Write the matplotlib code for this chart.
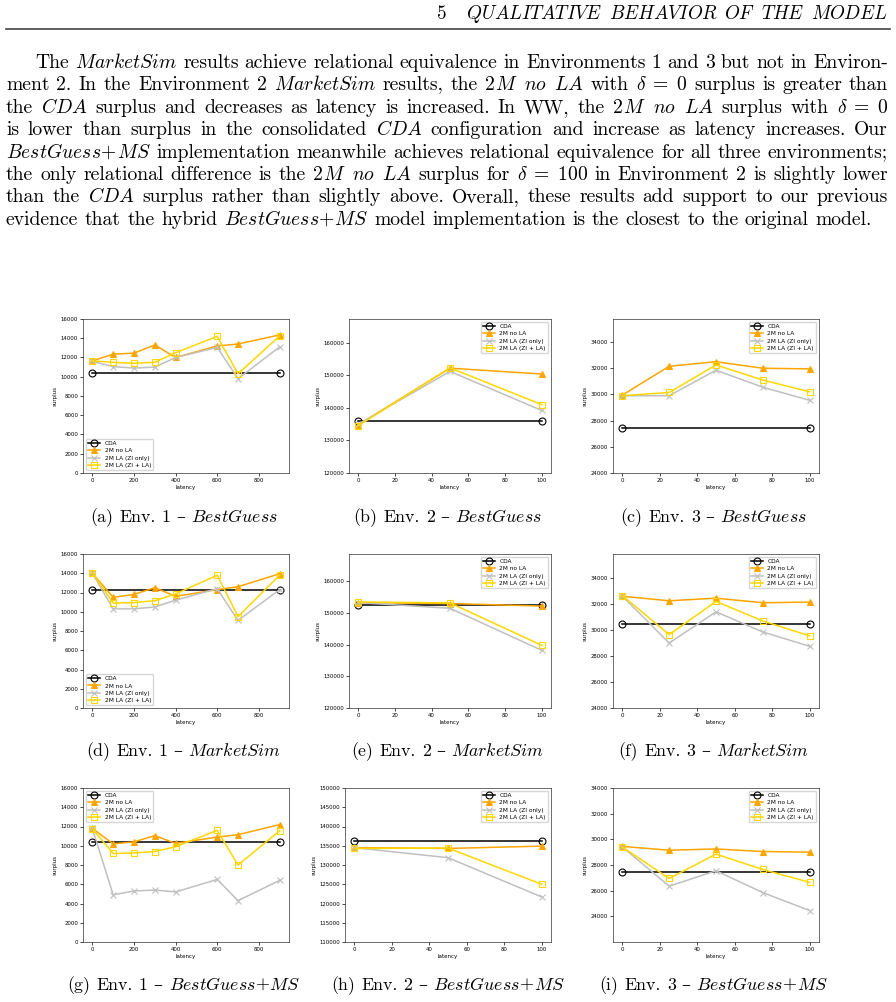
import re
import matplotlib
matplotlib.use('Agg')
import matplotlib.pyplot as plt
from matplotlib.lines import Line2D

plt.rcParams['mathtext.fontset'] = 'cm'
plt.rcParams['axes.unicode_minus'] = False

W, H = 896, 1002
fig = plt.figure(figsize=(W / 100, H / 100), dpi=100)
renderer = fig.canvas.get_renderer()

# ---------------- data ----------------
series_labels = ['CDA', '2M no LA', '2M LA (ZI only)', '2M LA (ZI + LA)']
lat_env1 = [0, 100, 200, 300, 400, 600, 700, 900]
lat_env2 = [0, 50, 100]
lat_env3 = [0, 25, 50, 75, 100]

# (a) Env. 1 - BestGuess
a_cda = [10400, 10400]
a_nola = [11650, 12350, 12450, 13300, 12000, 13200, 13400, 14350]
a_zi = [11600, 11050, 10900, 11000, 12000, 13050, 9800, 13100]
a_zila = [11650, 11500, 11400, 11500, 12500, 14200, 10300, 14250]
# (b) Env. 2 - BestGuess
b_cda = [136000, 136000]
b_nola = [134800, 152200, 150400]
b_zi = [135000, 151200, 139200]
b_zila = [134500, 152300, 141000]
# (c) Env. 3 - BestGuess
c_cda = [27450, 27450]
c_nola = [29950, 32150, 32500, 32000, 31950]
c_zi = [29900, 29900, 31850, 30550, 29550]
c_zila = [29900, 30150, 32250, 31100, 30200]
# (d) Env. 1 - MarketSim
d_cda = [12300, 12300]
d_nola = [14000, 11500, 11800, 12500, 11600, 12300, 12600, 13950]
d_zi = [14000, 10300, 10300, 10500, 11200, 12400, 9100, 12300]
d_zila = [14050, 10900, 10950, 11150, 11850, 13800, 9500, 13800]
# (e) Env. 2 - MarketSim
e_cda = [152400, 152400]
e_nola = [153300, 153000, 152200]
e_zi = [153300, 151500, 138200]
e_zila = [153500, 153200, 139800]
# (f) Env. 3 - MarketSim
f_cda = [30450, 30450]
f_nola = [32600, 32250, 32450, 32100, 32150]
f_zi = [32600, 29000, 31400, 29850, 28750]
f_zila = [32650, 29650, 32200, 30700, 29550]
# (g) Env. 1 - BestGuess+MS
g_cda = [10400, 10400]
g_nola = [11800, 10200, 10400, 11050, 10250, 10900, 11150, 12200]
g_zi = [11800, 4900, 5300, 5400, 5200, 6500, 4300, 6400]
g_zila = [11750, 9200, 9250, 9400, 9900, 11600, 8000, 11550]
# (h) Env. 2 - BestGuess+MS
h_cda = [136200, 136200]
h_nola = [134500, 134300, 134900]
h_zi = [134500, 131900, 121700]
h_zila = [134300, 134400, 125000]
# (i) Env. 3 - BestGuess+MS
i_cda = [27450, 27450]
i_nola = [29450, 29150, 29250, 29050, 29000]
i_zi = [29400, 26350, 27550, 25850, 24450]
i_zila = [29400, 26950, 28850, 27650, 26650]

captions = [
    '(a) Env. 1 – *BestGuess*', '(b) Env. 2 – *BestGuess*', '(c) Env. 3 – *BestGuess*',
    '(d) Env. 1 – *MarketSim*', '(e) Env. 2 – *MarketSim*', '(f) Env. 3 – *MarketSim*',
    '(g) Env. 1 – *BestGuess*+*MS*', '(h) Env. 2 – *BestGuess*+*MS*', '(i) Env. 3 – *BestGuess*+*MS*',
]

header_title = '*QUALITATIVE* *BEHAVIOR* *OF* *THE* *MODEL*'
paragraph = [
    'The *MarketSim* results achieve relational equivalence in Environments 1 and 3 but not in Environ-',
    r'ment 2. In the Environment 2 *MarketSim* results, the *2M* *no* *LA* with $\delta \;=\; 0$ surplus is greater than',
    r'the *CDA* surplus and decreases as latency is increased. In WW, the *2M* *no* *LA* surplus with $\delta \;=\; 0$',
    'is lower than surplus in the consolidated *CDA* configuration and increase as latency increases. Our',
    '*BestGuess*+*MS* implementation meanwhile achieves relational equivalence for all three environments;',
    r'the only relational difference is the *2M* *no* *LA* surplus for $\delta \;=\; 100$ in Environment 2 is slightly lower',
    'than the *CDA* surplus rather than slightly above. Overall, these results add support to our previous',
    'evidence that the hybrid *BestGuess*+*MS* model implementation is the closest to the original model.',
]

# ---------------- text layout helpers ----------------
RM_FAMILY = ['cmr10', 'DejaVu Serif']


def make_part(s, style, fs):
    if style == 'rm':
        return fig.text(0, 0, s, fontsize=fs, family=RM_FAMILY, va='baseline', ha='left')
    if style == 'it':
        return fig.text(0, 0, r'$\mathit{%s}$' % s, fontsize=fs, va='baseline', ha='left')
    return fig.text(0, 0, s, fontsize=fs, va='baseline', ha='left')


def build_words(line, fs):
    words = re.findall(r'\$[^$]*\$\S*|\S+', line)
    out = []
    for w in words:
        parts = []
        for p in re.findall(r'\*[^*]+\*|\$[^$]+\$|[^*$]+', w):
            if p.startswith('*'):
                inner = p[1:-1]
                if inner[0].isdigit():
                    parts.append(make_part(inner[0], 'rm', fs))
                    inner = inner[1:]
                parts.append(make_part(inner, 'it', fs))
            elif p.startswith('$'):
                parts.append(make_part(p, 'math', fs))
            else:
                parts.append(make_part(p, 'rm', fs))
        widths = [t.get_window_extent(renderer).width for t in parts]
        out.append((parts, widths))
    return out


def natural_width(words, fs):
    total = sum(sum(wd) for _, wd in words)
    return total + 0.333 * fs * 100 / 72 * (len(words) - 1)


def layout(line, y_px, fs, mode='left', x0=0, x1=None, xc=None):
    words = build_words(line, fs)
    total = sum(sum(wd) for _, wd in words)
    n = len(words)
    gap = 0.333 * fs * 100 / 72
    if mode == 'justify' and n > 1:
        gap = (x1 - x0 - total) / (n - 1)
    span = total + gap * (n - 1)
    if mode == 'center':
        start = xc - span / 2
    elif mode == 'right':
        start = x1 - span
    else:
        start = x0
    x = start
    for parts, wd in words:
        for t, w in zip(parts, wd):
            t.set_position((x / W, 1 - y_px / H))
            x += w
        x += gap
    return start


def remove_words(words):
    for parts, _ in words:
        for t in parts:
            t.remove()


# calibrate body font size so the last (unjustified) line spans ~870 px
probe = build_words(paragraph[-1], 12)
pw = natural_width(probe, 12)
remove_words(probe)
FS = 12 * 870 / pw

# header
hstart = layout(header_title, 19, FS * 0.97, mode='right', x1=888)
five = make_part('5', 'it', FS * 0.97)
fw = five.get_window_extent(renderer).width
five.set_position(((hstart - FS * 100 / 72 - fw) / W, 1 - 19 / H))
fig.add_artist(Line2D([6 / W, 890 / W], [1 - 28.5 / H, 1 - 28.5 / H],
                      color='#444444', linewidth=1.2, transform=fig.transFigure))

# paragraph
for k, line in enumerate(paragraph):
    yb = 68 + 22.4 * k
    if k == 0:
        layout(line, yb, FS, mode='justify', x0=35, x1=888)
    elif k == len(paragraph) - 1:
        layout(line, yb, FS, mode='left', x0=6)
    else:
        layout(line, yb, FS, mode='justify', x0=6, x1=888)

# ---------------- charts ----------------
styles = [
    dict(color='black', marker='o', mfc='none'),
    dict(color='orange', marker='^'),
    dict(color='silver', marker='x'),
    dict(color='gold', marker='s', mfc='none'),
]

panels = [
    (lat_env1, [a_cda, a_nola, a_zi, a_zila]),
    (lat_env2, [b_cda, b_nola, b_zi, b_zila]),
    (lat_env3, [c_cda, c_nola, c_zi, c_zila]),
    (lat_env1, [d_cda, d_nola, d_zi, d_zila]),
    (lat_env2, [e_cda, e_nola, e_zi, e_zila]),
    (lat_env3, [f_cda, f_nola, f_zi, f_zila]),
    (lat_env1, [g_cda, g_nola, g_zi, g_zila]),
    (lat_env2, [h_cda, h_nola, h_zi, h_zila]),
    (lat_env3, [i_cda, i_nola, i_zi, i_zila]),
]

rows = [(319, 473), (554, 708), (788, 942)]
cols = [[(83, 289), (349, 551), (613, 819)],
        [(83, 289), (349, 551), (613, 819)],
        [(83, 289), (345, 551), (613, 819)]]
ylims = [(0, 16000), (120000, 167300), (24000, 35760),
         (0, 16000), (120000, 168650), (24000, 35850),
         (0, 16000), (110000, 150000), (22000, 34000)]
yticks = [range(0, 16001, 2000), range(120000, 160001, 10000), range(24000, 34001, 2000),
          range(0, 16001, 2000), range(120000, 160001, 10000), range(24000, 34001, 2000),
          range(0, 16001, 2000), range(110000, 150001, 5000), range(24000, 34001, 2000)]
legend_locs = ['lower left', 'upper right', 'upper right',
               'lower left', 'upper right', 'upper right',
               'upper left', 'upper right', 'upper right']
caption_x = [184, 448, 714]
caption_y = [522, 756, 990]
CAP_FS = FS * 0.91

for idx, (xs, ys_list) in enumerate(panels):
    r, c = divmod(idx, 3)
    top, bot = rows[r]
    left, right = cols[r][c]
    ax = fig.add_axes([left / W, 1 - bot / H, (right - left) / W, (bot - top) / H])
    for lab, ys, st in zip(series_labels, ys_list, styles):
        xx = [xs[0], xs[-1]] if len(ys) == 2 else xs
        ax.plot(xx, ys, label=lab, linewidth=1.1, markersize=5, markeredgewidth=0.8, **st)
    ax.set_ylim(*ylims[idx])
    ax.set_yticks(list(yticks[idx]))
    ax.set_xlabel('latency', fontsize=4, labelpad=1.5)
    ax.set_ylabel('surplus', fontsize=4, labelpad=2)
    ax.tick_params(labelsize=3.9, length=2, width=0.5, pad=1.5)
    for sp in ax.spines.values():
        sp.set_linewidth(0.5)
        sp.set_color('#333333')
    ax.legend(loc=legend_locs[idx], fontsize=4.2, frameon=True, borderpad=0.4,
              labelspacing=0.35, handlelength=2.0, framealpha=0.8, edgecolor='#cccccc')
    layout(captions[idx], caption_y[r], CAP_FS, mode='center', xc=caption_x[c])

fig.savefig('out.png', dpi=100)
